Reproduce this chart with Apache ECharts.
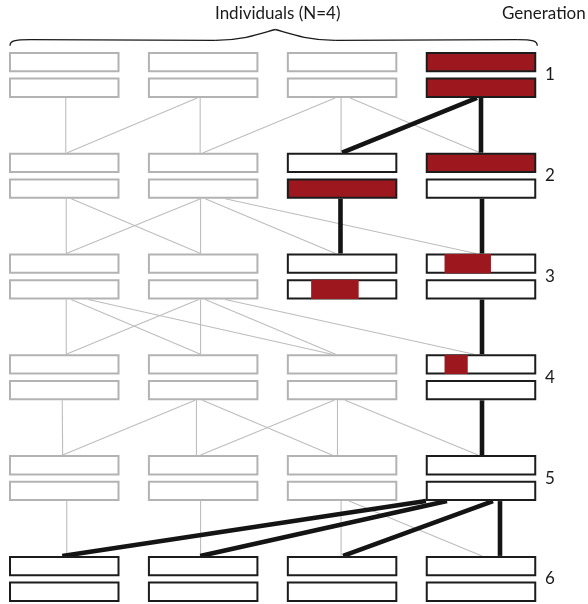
<!DOCTYPE html>
<html><head><meta charset="utf-8">
<script src="https://cdn.jsdelivr.net/npm/echarts@6/dist/echarts.min.js"></script>
<style>html,body{margin:0;padding:0;background:#fff}#c{width:588px;height:604px}</style>
</head><body><div id="c"></div>
<script>
// ---------------- data ----------------
const individuals = ['1', '2', '3', '4'];
const generations = ['1', '2', '3', '4', '5', '6'];
const titleText = 'Individuals (N=4)';
const generationTitle = 'Generation';
// parent -> child links for step g -> g+1 : [parent individual, child individual, on traced lineage (1) / not (0)]
const links1to2 = [[0,0,0],[1,0,0],[1,1,0],[2,1,0],[2,2,0],[2,3,0],[3,2,1],[3,3,1]];
const links2to3 = [[0,0,0],[0,1,0],[1,0,0],[1,1,0],[1,2,0],[1,3,0],[2,2,1],[3,3,1]];
const links3to4 = [[0,0,0],[0,1,0],[0,2,0],[1,0,0],[1,1,0],[1,2,0],[1,3,0],[3,3,1]];
const links4to5 = [[0,0,0],[1,0,0],[1,1,0],[1,2,0],[2,1,0],[2,2,0],[2,3,0],[3,3,1]];
const links5to6 = [[0,0,0],[1,1,0],[2,2,0],[2,3,0],[3,0,1],[3,1,1],[3,2,1],[3,3,1]];
// individuals on the traced lineage (black outline), per generation
const lineageIndividuals = [[3], [2,3], [2,3], [3], [3], [0,1,2,3]];
// red chromosome segments: [generation index, individual, chromosome (0 upper / 1 lower), start fraction, end fraction]
const redSegments = [
  [0,3,0,0,1],[0,3,1,0,1],
  [1,3,0,0,1],[1,2,1,0,1],
  [2,2,1,0.22,0.65],[2,3,0,0.17,0.59],
  [3,3,0,0.17,0.38]
];

// ---------------- drawing tweaks (hand-drawn anchor offsets in px: [source dx, target dx]) ----------------
const anchorNudge = [
  [[1.5,1.5],[-6,3],[-3,-3],[-7,0],[-1,-1],[8,-1],[-4,0],[0,0]],
  [[2,2],[7,-2.6],[-2.6,2],[-2.6,-2.6],[2,-6.5],[22,-5],[-1.6,-1.6],[1,1]],
  [[2,2],[7,-2.6],[24,-10],[-4.5,2],[-2.6,-2.6],[2,-6.5],[22,-7],[1,1]],
  [[-2,-1.6],[-8,-1.6],[-6.7,-6.7],[-0.7,-10],[-8,-2.6],[-4.6,-4.6],[3,-3],[1,1]],
  [[2.5,2.5],[-2.6,-2.6],[-1,-1],[7,1],[-55,-2],[-34,-3],[12,1],[19,19]]
];

const RED = '#9d181e';
const DARK = '#1c1c1c';
const GREY_BOX = '#b3b3b3';
const GREY_LINE = '#bdbdbd';
const FONT = 'Lato';
const HALF_W = 55.25;     // outer half width of a chromosome box
const PAIR_HALF = 23;     // half height of a chromosome pair
const GAP_HALF = 2.7;     // half gap between the two chromosomes
const BOX_LW = 2;

// ---------------- build series data ----------------
const allLinks = [links1to2, links2to3, links3to4, links4to5, links5to6];
const greyLinkData = [], thickLinkData = [];
allLinks.forEach((list, g) => {
  list.forEach((l, i) => {
    const n = anchorNudge[g][i];
    const item = [l[0], g, l[1], g + 1, n[0], n[1]];
    (l[2] ? thickLinkData : greyLinkData).push(item);
  });
});

const fullRed = {};
redSegments.forEach(s => { if (s[3] === 0 && s[4] === 1) fullRed[s[0] + '-' + s[1] + '-' + s[2]] = true; });
const partialRed = redSegments.filter(s => !(s[3] === 0 && s[4] === 1))
  .map(s => [s[1], s[0], s[2], s[3], s[4]]);

const boxData = [];
generations.forEach((gl, g) => {
  individuals.forEach((il, c) => {
    [0, 1].forEach(ch => {
      boxData.push([c, g, ch, lineageIndividuals[g].indexOf(c) >= 0 ? 1 : 0, fullRed[g + '-' + c + '-' + ch] ? 1 : 0]);
    });
  });
});

function linkRenderer(thick) {
  return function (params, api) {
    const p = api.coord([api.value(0), api.value(1)]);
    const c = api.coord([api.value(2), api.value(3)]);
    return {
      type: 'line',
      shape: { x1: p[0] + api.value(4), y1: p[1] + PAIR_HALF, x2: c[0] + api.value(5), y2: c[1] - PAIR_HALF },
      style: { stroke: thick ? '#141414' : GREY_LINE, lineWidth: thick ? 4.6 : 1.1, lineCap: 'butt' }
    };
  };
}

const chart = echarts.init(document.getElementById('c'), null, { renderer: 'canvas' });
chart.setOption({
  animation: false,
  backgroundColor: '#fff',
  grid: { left: 64.25, right: 107, top: 74.9, bottom: 25.1, containLabel: false },
  xAxis: { type: 'category', data: individuals, boundaryGap: false, show: false },
  yAxis: {
    type: 'category', data: generations, inverse: true, boundaryGap: false, position: 'right',
    axisLine: { show: false }, axisTick: { show: false }, splitLine: { show: false },
    axisLabel: { margin: 64, align: 'left', fontSize: 17, color: '#1a1a1a', fontFamily: FONT }
  },
  graphic: [
    { type: 'text', left: 215, top: 5, style: { text: titleText, font: '17px ' + FONT, fill: '#1a1a1a' } },
    { type: 'text', left: 502, top: 5, style: { text: generationTitle, font: '17px ' + FONT, fill: '#1a1a1a' } }
  ],
  series: [
    { type: 'custom', coordinateSystem: 'cartesian2d', clip: false, z: 1, data: greyLinkData, renderItem: linkRenderer(false) },
    { type: 'custom', coordinateSystem: 'cartesian2d', clip: false, z: 2, data: thickLinkData, renderItem: linkRenderer(true) },
    {
      type: 'custom', coordinateSystem: 'cartesian2d', clip: false, z: 3, data: boxData,
      renderItem: function (params, api) {
        const c = api.coord([api.value(0), api.value(1)]);
        const ch = api.value(2);
        const outerTop = ch === 0 ? c[1] - PAIR_HALF : c[1] + GAP_HALF;
        const outerH = PAIR_HALF - GAP_HALF;
        return {
          type: 'rect',
          shape: { x: c[0] - HALF_W + BOX_LW / 2, y: outerTop + BOX_LW / 2, width: 2 * HALF_W - BOX_LW, height: outerH - BOX_LW },
          style: { fill: api.value(4) ? RED : '#ffffff', stroke: api.value(3) ? DARK : GREY_BOX, lineWidth: BOX_LW }
        };
      }
    },
    {
      type: 'custom', coordinateSystem: 'cartesian2d', clip: false, z: 4, data: partialRed,
      renderItem: function (params, api) {
        const c = api.coord([api.value(0), api.value(1)]);
        const ch = api.value(2);
        const outerTop = ch === 0 ? c[1] - PAIR_HALF : c[1] + GAP_HALF;
        const x0 = c[0] - HALF_W + api.value(3) * 2 * HALF_W;
        const x1 = c[0] - HALF_W + api.value(4) * 2 * HALF_W;
        return { type: 'rect', shape: { x: x0, y: outerTop + 0.6, width: x1 - x0, height: PAIR_HALF - GAP_HALF - 1.2 }, style: { fill: RED } };
      }
    },
    {
      type: 'custom', coordinateSystem: 'cartesian2d', clip: false, z: 5, data: [[0, 0]],
      renderItem: function (params, api) {
        const a = api.coord([0, 0]);
        const b = api.coord([individuals.length - 1, 0]);
        const T = a[1] - PAIR_HALF;
        const L = a[0] - HALF_W + 1, R = b[0] + HALF_W + 1;
        const M = (a[0] + b[0]) / 2 + 2.6;
        const tip = T - 6.2, flat = T - 12.3, peak = T - 22.4;
        const st = { stroke: '#1a1a1a', lineWidth: 1.3, fill: null };
        return {
          type: 'group',
          children: [
            { type: 'bezierCurve', shape: { x1: L, y1: tip, cpx1: L, cpy1: flat + 1.5, cpx2: L + 4, cpy2: flat, x2: L + 20, y2: flat }, style: st },
            { type: 'line', shape: { x1: L + 20, y1: flat, x2: M - 60, y2: flat + 1 - 0.2 }, style: st },
            { type: 'bezierCurve', shape: { x1: M - 60, y1: flat + 0.8, cpx1: M - 30, cpy1: flat + 0.4, cpx2: M - 13, cpy2: peak + 3.5, x2: M, y2: peak }, style: st },
            { type: 'bezierCurve', shape: { x1: M, y1: peak, cpx1: M + 13, cpy1: peak + 3.5, cpx2: M + 30, cpy2: flat + 0.4, x2: M + 60, y2: flat + 0.8 }, style: st },
            { type: 'line', shape: { x1: M + 60, y1: flat + 0.8, x2: R - 20, y2: flat }, style: st },
            { type: 'bezierCurve', shape: { x1: R - 20, y1: flat, cpx1: R - 4, cpy1: flat, cpx2: R, cpy2: flat + 1.5, x2: R, y2: tip }, style: st }
          ]
        };
      }
    }
  ]
});
</script>
</body></html>
